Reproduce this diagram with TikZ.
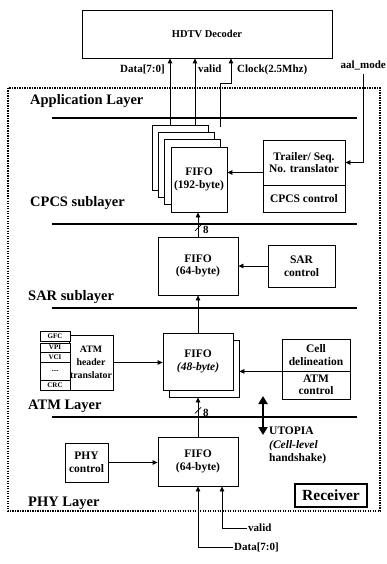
\documentclass[tikz,border=0pt]{standalone}
\usepackage{fontspec}
\setmainfont{Liberation Serif}
\usetikzlibrary{arrows.meta, positioning, calc}

\begin{document}
\begin{tikzpicture}[x=1pt, y=-1pt,
    blk/.style={draw, line width=0.8pt, fill=white, align=center, inner sep=1pt,
        font=\fontsize{11.5}{12.5}\selectfont\bfseries},
    subfld/.style={draw, line width=0.6pt, fill=white, inner sep=0pt, minimum width=30pt,
        font=\fontsize{7}{7}\selectfont\bfseries},
    layer/.style={anchor=west, inner sep=0pt, font=\fontsize{14.5}{16}\selectfont\bfseries},
    lbl/.style={inner sep=1pt, font=\fontsize{11}{12}\selectfont\bfseries},
    sepline/.style={line width=2pt},
    sig/.style={line width=0.8pt, -{Triangle[length=5pt, width=4.5pt]}},
    wire/.style={line width=0.8pt}]

    \useasboundingbox (0,0) rectangle (387,564);

	% Frame and layers
    \draw[line width=1.5pt, dash pattern=on 1.2pt off 1.3pt] (8,88) rectangle (380,511);
    \foreach \y in {118,224,308,417}
        \draw[sepline] (52,\y) -- (357,\y);
    \node[layer] (applbl) at (30,101) {Application Layer};
    \node[layer] (cpcslbl) at (30,203) {CPCS sublayer};
    \node[layer] (sarlbl) at (28,297) {SAR sublayer};
    \node[layer] (atmlbl) at (28,406) {ATM Layer};
    \node[layer] (phylbl) at (28,503) {PHY Layer};

	% Nodes
    \node[blk, minimum width=250pt, minimum height=48pt,
        font=\fontsize{10.5}{12}\selectfont\bfseries] (hdtv) at (207,34) {HDTV Decoder};

    \foreach \n [count=\k from 0] in {1,2,3}
        \node[blk, minimum width=56pt, minimum height=65pt] (fifoc\n) at ({180+6.33*\k},{157.5+7.33*\k}) {};
    \node[blk, minimum width=56pt, minimum height=65pt] (cpcsfifo) at (199,179.5) {FIFO\\(192-byte)};
    \node[blk, minimum width=82pt, minimum height=45pt] (trailer) at (304,162.5) {Trailer/ Seq.\\No. translator};
    \node[blk, minimum width=82pt, minimum height=27pt] (cpcsctl) at (304,198.5) {CPCS control};

    \node[blk, minimum width=80pt, minimum height=58pt] (sarfifo) at (198,266) {FIFO\\(64-byte)};
    \node[blk, minimum width=67pt, minimum height=42pt] (sarctl) at (301.5,266) {SAR\\control};

    \node[blk, minimum width=70pt, minimum height=57pt] (atmback) at (204,368.5) {};
    \node[blk, minimum width=70pt, minimum height=57pt] (atmfifo) at (198,361.5) {FIFO\\\textit{(48-byte)}};
    \node[blk, minimum width=42pt, minimum height=55pt,
        font=\fontsize{9.8}{13}\selectfont\bfseries] (hdrtr) at (91,362.5) {ATM\\header\\translator};
    \node[subfld, minimum height=10pt] (gfc) at (55,336) {GFC};
    \node[subfld, minimum height=9pt] (vpi) at (55,347.5) {VPI};
    \node[subfld, minimum height=10pt] (vci) at (55,357) {VCI};
    \node[subfld, minimum height=18pt] (dots) at (55,371) {....};
    \node[subfld, minimum height=10pt] (crc) at (55,385) {CRC};
    \node[blk, minimum width=68pt, minimum height=32pt] (celldel) at (316,355) {Cell\\delineation};
    \node[blk, minimum width=68pt, minimum height=28pt] (atmctl) at (316,385) {ATM\\control};

    \node[blk, minimum width=80pt, minimum height=49pt] (phyfifo) at (198,461.5) {FIFO\\(64-byte)};
    \node[blk, minimum width=43pt, minimum height=39pt] (phyctl) at (86.5,462.5) {PHY\\control};
    \node[draw, line width=2.2pt, minimum width=72pt, minimum height=23pt, inner sep=1pt,
        font=\fontsize{15.5}{17}\selectfont\bfseries] (recv) at (331,495.5) {Receiver};

    % Signal labels
    \node[lbl, anchor=east] (datalbl) at (166,69) {Data[7:0]};
    \node[lbl, anchor=west] (validlbl) at (197,69) {valid};
    \node[lbl, anchor=west] (clklbl) at (236,70) {Clock(2.5Mhz)};
    \node[lbl, anchor=east] (aal) at (387,65) {aal\_mode};
    \node[lbl, anchor=north west, align=left,
        font=\fontsize{11.5}{13.5}\selectfont\bfseries] (utopia) at (268,426) {UTOPIA\\\textit{(Cell-level}\\handshake)};
    \node[lbl, anchor=west] (dinlbl) at (233,547) {Data[7:0]};
    \node[lbl, anchor=west] (vinlbl) at (247,528) {valid};
    \coordinate (clk) at (220,127);
    \coordinate (aalin) at (363,74);
    \coordinate (utop) at (263,396);
    \coordinate (utbot) at (263,435);

    % Arrows
    \draw[sig] ([xshift=-10pt]fifoc1.north) -- ([xshift=-10pt]fifoc1.north |- hdtv.south);
    \draw[sig] ([xshift=15pt]fifoc1.north) -- ([xshift=15pt]fifoc1.north |- hdtv.south);
    \draw[sig] (clk) -- (clk |- 0,83) -| ([xshift=24pt]hdtv.south);
    \draw[sig] (aalin) |- (trailer.east);
    \draw[sig] ([yshift=-10pt]trailer.west) -- ([yshift=-10pt]trailer.west -| cpcsfifo.east);
    \draw[sig] (sarctl) -- (sarfifo);
    \draw[sig] (sarfifo.north) -- coordinate[pos=0.36] (bus1) (sarfifo.north |- cpcsfifo.south);
    \draw[wire] ($(bus1)+(-3,3)$) -- ($(bus1)+(3,-3)$);
    \node[lbl, right=4pt of bus1, yshift=-2pt] {8};
    \draw[sig] (atmfifo.north) -- (atmfifo.north |- sarfifo.south);
    \draw[sig] (hdrtr.east) -- (hdrtr.east -| atmfifo.west);
    \draw[sig] (celldel.south west) -- (celldel.south west -| atmback.east);
    \draw[sig] (phyfifo.north) -- coordinate[pos=0.67] (bus2) (phyfifo.north |- atmback.south);
    \draw[wire] ($(bus2)+(-3,3)$) -- ($(bus2)+(3,-3)$);
    \node[lbl, right=4pt of bus2, yshift=-3pt] {8};
    \draw[line width=2pt, {Triangle[length=8pt, width=9pt]}-{Triangle[length=8pt, width=9pt]}] (utop) -- (utbot);
    \draw[sig] (phyctl) -- (phyctl -| phyfifo.west);
    \draw[sig] (dinlbl.west) -| (phyfifo.south);
    \draw[sig] (vinlbl.west) -| ([xshift=24pt]phyfifo.south);

\end{tikzpicture}
\end{document}
